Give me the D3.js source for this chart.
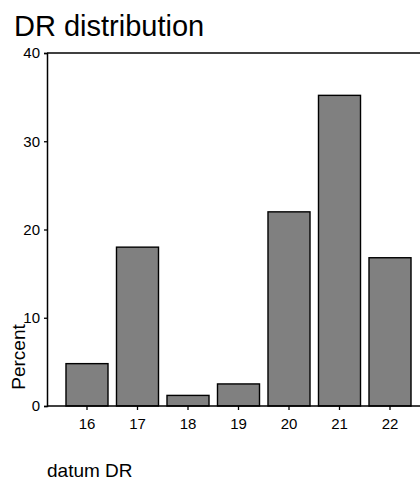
<!DOCTYPE html>
<html>
<head>
<meta charset="utf-8">
<script src="https://cdn.jsdelivr.net/npm/d3@7"></script>
<style>
  body { margin: 0; background: #fff; }
  text { font-family: "Liberation Sans", Arial, sans-serif; fill: #000; }
  .tick text { font-size: 15px; }
</style>
</head>
<body>
<div id="chart"></div>
<script>
const categories = ["16", "17", "18", "19", "20", "21", "22"];
const percents = [4.8, 18.0, 1.2, 2.5, 22.0, 35.2, 16.8];
const yTicks = [0, 10, 20, 30, 40];

const data = categories.map((c, i) => ({ cat: c, pct: percents[i] }));

const width = 420,
    height = 482,
    margin = { top: 53, bottom: 76, left: 47, right: -10 };

const svg = d3.select("#chart")
    .append("svg")
    .attr("width", width)
    .attr("height", height);

const xScale = d3.scaleBand()
    .domain(categories)
    .range([margin.left, width - margin.right])
    .paddingInner(0.168)
    .paddingOuter(0.376);

const yScale = d3.scaleLinear()
    .domain([0, 40])
    .range([height - margin.bottom, margin.top]);

svg.selectAll("rect.bar")
    .data(data)
    .join("rect")
    .attr("class", "bar")
    .attr("x", d => xScale(d.cat))
    .attr("y", d => yScale(d.pct))
    .attr("width", xScale.bandwidth())
    .attr("height", d => yScale(0) - yScale(d.pct))
    .attr("fill", "#808080")
    .attr("stroke", "#000")
    .attr("stroke-width", 1.4);

// top frame line
svg.append("line")
    .attr("x1", margin.left).attr("x2", width)
    .attr("y1", yScale(40)).attr("y2", yScale(40))
    .attr("stroke", "#000").attr("stroke-width", 1.5);

const yAxis = d3.axisLeft(yScale).tickValues(yTicks).tickSize(3).tickPadding(4);
const xAxis = d3.axisBottom(xScale).tickSize(4).tickPadding(8);

const gy = svg.append("g")
    .attr("transform", `translate(${margin.left},0)`)
    .call(yAxis);

const gx = svg.append("g")
    .attr("transform", `translate(0,${yScale(0)})`)
    .call(xAxis);

[gx, gy].forEach(g => {
    g.attr("font-size", null).attr("font-family", null);
    g.select(".domain").attr("stroke", "#000").attr("stroke-width", 1.5);
    g.selectAll(".tick line").attr("stroke", "#000").attr("stroke-width", 1.3);
});
gx.select(".domain").attr("d", `M${margin.left},0H${width}`);

svg.append("text")
    .attr("x", 14)
    .attr("y", 36)
    .attr("font-size", 29)
    .text("DR distribution");

svg.append("text")
    .attr("transform", "translate(25,357) rotate(-90)")
    .attr("text-anchor", "middle")
    .attr("font-size", 19)
    .text("Percent");

svg.append("text")
    .attr("x", 47)
    .attr("y", 477)
    .attr("font-size", 19)
    .text("datum DR");
</script>
</body>
</html>
